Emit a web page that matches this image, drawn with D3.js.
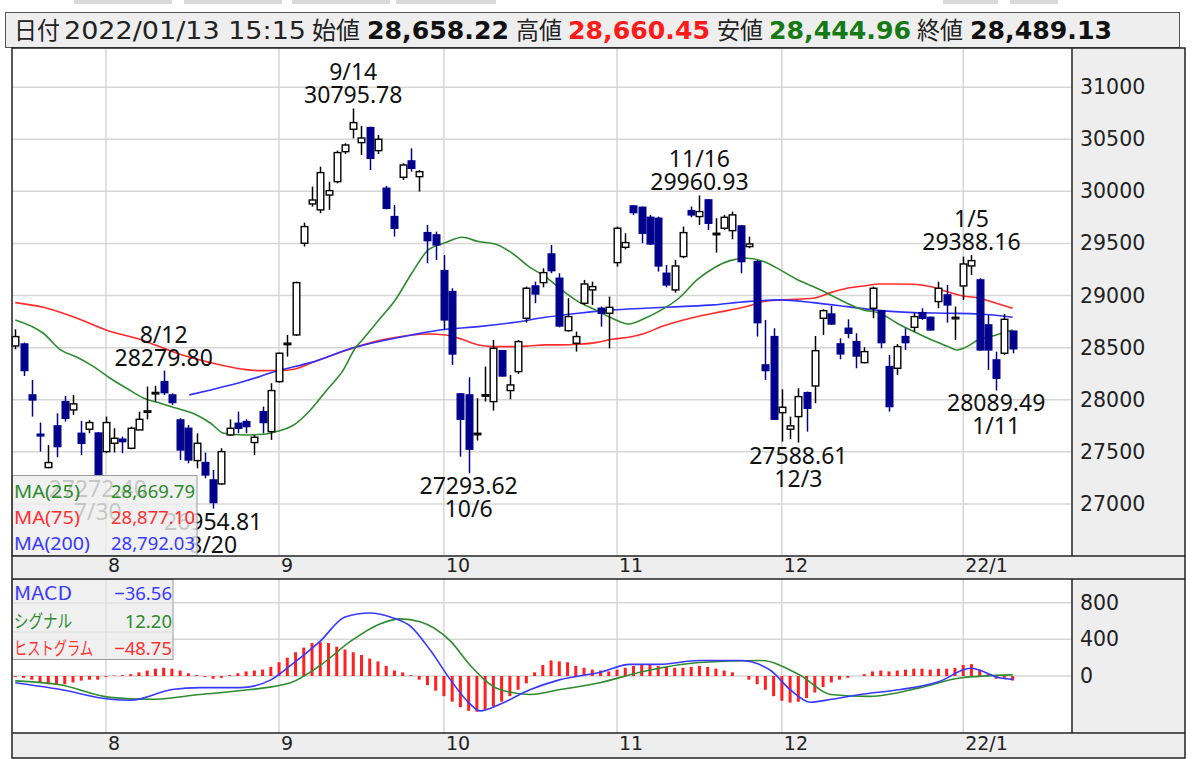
<!DOCTYPE html>
<html><head><meta charset="utf-8">
<script src="https://cdn.jsdelivr.net/npm/d3@7"></script>
<style>body{margin:0;background:#fff}svg{display:block}</style>
</head><body><svg id="c" width="1200" height="759"></svg>
<script>
// ---------- DATA ----------
const openV  = [28516,28535,28046,27669,27349,27749,27982,27902,27678,27717,27680,27502,27582,27621,27534,27710,27885,28062,28174,28046,27806,27726,27416,27397,27230,27192,27662,27774,27790,27589,27886,27694,28174,28535,28622,29502,29879,29822,29965,30093,30381,30596,30468,30612,30391,30030,29758,30135,30292,30141,29604,29582,29239,29038,28056,28046,27672,28040,27982,28471,28088,28270,28782,29092,29124,29399,29166,28663,28542,28926,29054,28878,28830,29316,29463,29860,29847,29751,29742,29214,29054,29374,29815,29758,29918,29591,29646,29623,29668,29470,29326,28334,28606,27876,27717,27838,28068,28132,28782,28823,28536,28686,28558,28356,28878,28855,28318,28302,28606,28695,28836,28791,28942,29006,28782,29092,29284,29150,28718,28382,28446,28658.22];
const highV  = [28676,28548,28190,27781,27566,27870,28036,28046,27797,27806,27690,27838,27726,27646,27742,27886,28126,28133,28279.80,28062,27822,27758,27678,27493,27326,27534,27812,27886,27812,27662,27934,28158,28452,28622,29134,29700,30045,30237,30093,30391,30461,30795.78,30628,30621,30541,30052,29870,30269,30413,30205,29678,29613,29390,29070,28062,28216,28014,28318,28574,28478,28238,28574,29086,29134,29262,29486,29214,28974,28654,29150,29134,28894,28990,29662,29598,29870,29854,29774,29758,29294,29342,29662,29854,29960.93,29924,29742,29774,29806,29678,29566,29342,28766,28686,28100,27838,28110,28078,28612,28868,28900,28590,28772,28638,28503,29086,28862,28430,28535,28686,28836,28878,28798,29134,29102,28894,29374,29388.16,29166,28814,28462,28823,28660.45];
const lowV   = [28484,28228,27838,27502,27342,27448,27790,27854,27470,27678,27272.40,27486,27493,27486,27525,27710,27812,27982,28046,27950,27422,27390,27342,27246,26954.81,27182,27652,27678,27678,27470,27678,27614,28164,28414,28612,29470,29854,29790,29822,30077,30359,30509,30349,30205,30359,29828,29566,30109,30189,29998,29310,29342,28670,28334,27454,27293.62,27608,27982,27896,28222,28004,28248,28740,28926,29079,29214,28695,28654,28462,28910,28910,28702,28494,29278,29444,29774,29502,29486,29230,29079,29028,29358,29751,29678,29630,29412,29630,29540,29214,29454,28606,28190,27806,27598,27621,27588.61,27694,27966,28622,28718,28388,28590,28302,28350,28782,28494,27886,28238,28478,28654,28766,28663,28878,28740,28574,28958,29198,28471,28286,28089.49,28430,28444.96];
const closeV = [28606,28280,27998,27653,27397,27550,27822,27960,27582,27781,27283,27781,27630,27598,27726,27812,27893,28070,28068,27973,27518,27422,27582,27278,27013,27502,27726,27726,27742,27640,27781,28088,28446,28543,29124,29662,29917,30180,30007,30372,30445,30660,30512,30317,30500,29837,29646,30253,30221,30189,29527,29486,28766,28439,27813,27525,27678,28048,28494,28228,28142,28558,29070,29015,29220,29239,28708,28798,28606,29111,29086,28830,28887,29646,29508,29796,29598,29495,29284,29102,29284,29604,29774,29806,29694,29598,29751,29774,29326,29495,28740,28280,27813,27928,27749,28030,27918,28471,28855,28727,28440,28638,28420,28462,29070,28548,27934,28510,28548,28798,28782,28670,29070,28910,28791,29303,29335,28478,28478,28206,28772,28489.13];

const monthStartIdx = [11, 32, 52, 73, 93, 115];
const monthLabels   = ["8", "9", "10", "11", "12", "22/1"];
const priceTicks = [27000, 27500, 28000, 28500, 29000, 29500, 30000, 30500, 31000];
const macdTicks  = [0, 400, 800];

const ma25Idx = [0,3.4,5.5,7.5,9.5,11.5,13.5,15.6,17.6,19.6,22,23.7,25.3,27.7,30.1,31.7,33.8,35.8,37.8,39.8,41.2,42.1,44.1,46.1,48.1,50.1,52.2,54.2,56.2,58.2,60.3,62.3,64.3,66.3,68.3,70.4,72.4,74.4,76.4,78.4,80.5,82.7,84.7,86.7,88.7,90.8,92.8,94.8,96.8,98.9,100.9,102.9,104.9,107,109,111,113,114.2,115,117,119,121];
const ma25Val = [28766,28638,28478,28408,28318,28206,28110,28014,27966,27918,27854,27774,27678,27662,27668,27694,27758,27902,28094,28286,28490,28574,28766,28958,29214,29438,29508,29559,29518,29495,29406,29278,29182,29054,28942,28862,28782,28727,28782,28862,28974,29150,29262,29335,29358,29326,29246,29156,29086,29006,28926,28862,28830,28734,28654,28580,28516,28478,28494,28580,28622,28670];
const ma75Idx = [0,3.4,7.5,11,15.6,19.6,23.7,27.7,29.7,32,33.8,35.8,40,44.1,48.1,50.1,52.2,54.2,56.2,58.2,60.3,62.3,64.3,66.3,68.3,70.4,72.4,74.4,76.4,78.4,81.9,84.7,88.7,90.8,92.8,96.8,98.9,100.9,102.9,104.9,107,109,111,113,115,117,119,121];
const ma75Val = [28932,28887,28782,28670,28567,28446,28356,28292,28279,28280,28292,28350,28471,28567,28622,28631,28622,28580,28526,28510,28510,28516,28526,28526,28532,28548,28580,28599,28638,28702,28782,28830,28894,28942,28958,28974,29028,29070,29092,29111,29111,29108,29086,29038,28996,28974,28926,28877];
const ma200Idx = [21.1,23.7,27.7,31.9,35.8,41.2,44.1,48.1,52.2,56.2,60.3,64.3,68.3,72.4,76.4,80.7,84.7,88.7,92.8,96.8,100.9,104.9,109,113,117,121];
const ma200Val = [28046,28094,28174,28280,28356,28503,28558,28622,28676,28702,28740,28791,28830,28862,28878,28894,28910,28942,28958,28932,28894,28855,28836,28830,28823,28792];

const macdIdx = [0,5.5,11.5,14,19,22.4,27.3,31,33.4,37,40,43,45.5,48,50.4,52.8,55.2,56.4,58.8,62.5,66,71,74.6,78,83,88,91.6,94,96.5,99,102.5,107.4,112,115.9,119.5,121];
const macdVal = [-74,-148,-254,-265,-148,-127,-127,-42,116,381,645,688,645,540,275,-42,-307,-381,-307,-148,-42,42,127,127,169,169,63,-148,-286,-254,-201,-148,-63,85,-21,-36.56];
const signalIdx = [0,5.4,11.5,16.4,22.4,28.5,33.4,37,40.7,44.3,46.7,49.1,52.8,55.2,58.8,62.5,66.1,70.9,75.8,83,90.4,95.2,98.9,103.7,109.8,114.6,121];
const signalVal = [-53,-95,-233,-254,-201,-148,-74,116,381,571,624,593,381,116,-148,-201,-148,-74,42,148,169,10,-201,-222,-127,-21,12.20];
const histVal = [-10,-20,-40,-70,-90,-95,-90,-70,-50,-40,-40,-10,5,10,20,40,60,80,90,80,60,30,10,-10,-30,-20,10,30,50,60,70,100,150,200,260,310,360,370,360,320,290,260,230,190,160,110,60,40,10,-40,-100,-160,-220,-280,-340,-380,-390,-370,-330,-280,-220,-150,-80,40,120,170,160,150,110,90,70,60,50,70,90,110,120,120,110,100,90,90,100,110,100,80,60,40,0,-40,-90,-150,-220,-270,-290,-280,-240,-180,-120,-70,-40,-20,0,20,50,60,50,60,70,80,80,70,80,80,90,120,130,70,20,-30,-20,-48.75];

const highMarks = [{i:18,date:"8/12",val:"28279.80"},{i:41,date:"9/14",val:"30795.78"},{i:83,date:"11/16",val:"29960.93"},{i:116,date:"1/5",val:"29388.16"}];
const lowMarks  = [{i:10,date:"7/30",val:"27272.40"},{i:24,date:"8/20",val:"26954.81"},{i:55,date:"10/6",val:"27293.62"},{i:95,date:"12/3",val:"27588.61"},{i:119,date:"1/11",val:"28089.49"}];

const headerParts = [
  {t:"日付", w:false, c:"#222"}, {t:"2022/01/13 15:15", w:false, c:"#222"},
  {t:"始値", w:false, c:"#222"}, {t:"28,658.22", w:true, c:"#111"},
  {t:"高値", w:false, c:"#222"}, {t:"28,660.45", w:true, c:"#ff1a1a"},
  {t:"安値", w:false, c:"#222"}, {t:"28,444.96", w:true, c:"#157a15"},
  {t:"終値", w:false, c:"#222"}, {t:"28,489.13", w:true, c:"#111"}
];
const maLegend = [{name:"MA(25)", val:"28,669.79", c:"#2e8b2e"},{name:"MA(75)", val:"28,877.10", c:"#ff3030"},{name:"MA(200)", val:"28,792.03", c:"#3838ff"}];
const macdLegend = [{name:"MACD", val:"\u221236.56", c:"#3838ff"},{name:"シグナル", val:"12.20", c:"#2e8b2e"},{name:"ヒストグラム", val:"\u221248.75", c:"#ff3030"}];

// ---------- LAYOUT ----------
const svg = d3.select("#c");
const L = 12, R = 1072, AR = 1185;
const mainT = 48, mainB = 556, macdT = 579, macdB = 733, botB = 758;
const gridC = "#d6d6d6", panelC = "#eeeeee";
const upC = "#ffffff", dnC = "#00008c";

const n = closeV.length;
const x = d3.scaleLinear().domain([-0.4, 128.2]).range([L, R]);
const y = d3.scaleLinear().domain([26500, 31376]).range([mainB, mainT]);
const ym = d3.scaleLinear().domain([-622, 1059]).range([macdB, macdT]);

// top tabs
[[74,176],[184,286],[292,394],[396,500],[943,1002],[1010,1062]].forEach(([a,b])=>{
  svg.append("rect").attr("x",a).attr("y",0).attr("width",b-a-4).attr("height",4).attr("fill","#d9d9d9");
});

// header box
svg.append("rect").attr("x",5.5).attr("y",12.5).attr("width",1174).attr("height",35).attr("fill",panelC).attr("stroke","#555").attr("stroke-width",1);
const hx = [[14,46],[64,242],[312,48],[367,142],[516,46],[568,142],[717,46],[769,142],[917,46],[970,142]];
headerParts.forEach((p,k)=>{
  svg.append("text").attr("x",hx[k][0]).attr("y",38.5)
    .attr("font-family", p.w ? "DejaVu Sans" : "'DejaVu Sans','Noto Sans CJK JP'")
    .attr("font-weight", p.w ? "bold":"normal").attr("font-size", 24)
    .attr("fill", p.c).attr("textLength", hx[k][1]).attr("lengthAdjust","spacingAndGlyphs").text(p.t);
});

// panels
svg.append("rect").attr("x",L).attr("y",mainT).attr("width",R-L).attr("height",mainB-mainT).attr("fill","#fff");
svg.append("rect").attr("x",L).attr("y",macdT).attr("width",R-L).attr("height",macdB-macdT).attr("fill","#fff");
svg.append("rect").attr("x",R).attr("y",mainT).attr("width",AR-R).attr("height",mainB-mainT).attr("fill",panelC);
svg.append("rect").attr("x",R).attr("y",macdT).attr("width",AR-R).attr("height",macdB-macdT).attr("fill",panelC);
svg.append("rect").attr("x",L).attr("y",mainB).attr("width",AR-L).attr("height",macdT-mainB).attr("fill",panelC);
svg.append("rect").attr("x",L).attr("y",macdB).attr("width",AR-L).attr("height",botB-macdB).attr("fill",panelC);

// grid
const gm = svg.append("g");
priceTicks.forEach(v=>gm.append("line").attr("x1",L).attr("x2",R).attr("y1",y(v)).attr("y2",y(v)).attr("stroke",gridC).attr("stroke-width",1.5));
monthStartIdx.forEach(i=>{
  gm.append("line").attr("x1",x(i)).attr("x2",x(i)).attr("y1",mainT).attr("y2",mainB).attr("stroke",gridC).attr("stroke-width",1.5);
  gm.append("line").attr("x1",x(i)).attr("x2",x(i)).attr("y1",macdT).attr("y2",macdB).attr("stroke",gridC).attr("stroke-width",1.5);
});
macdTicks.forEach(v=>gm.append("line").attr("x1",L).attr("x2",R).attr("y1",ym(v)).attr("y2",ym(v)).attr("stroke",gridC).attr("stroke-width",1.5));

// MA lines
const lineGen = d3.line().curve(d3.curveMonotoneX);
function drawLine(idx, vals, sc, color){
  svg.append("path").attr("d", lineGen(idx.map((i,k)=>[x(i), sc(vals[k])])))
    .attr("fill","none").attr("stroke",color).attr("stroke-width",1.6);
}
drawLine(ma75Idx, ma75Val, y, "#ff2a2a");
drawLine(ma200Idx, ma200Val, y, "#3030ff");
drawLine(ma25Idx, ma25Val, y, "#2e8b2e");

// candles
const bw = 6.6;
const cg = svg.append("g");
d3.range(n).forEach(i=>{
  const up = closeV[i] >= openV[i];
  const col = up ? "#000" : dnC;
  const cx = Math.round(x(i)) + 0.5;
  cg.append("line").attr("x1",cx).attr("x2",cx).attr("y1",y(highV[i])).attr("y2",y(lowV[i])).attr("stroke",col).attr("stroke-width",1.5);
  const top = y(Math.max(openV[i],closeV[i])), bot = y(Math.min(openV[i],closeV[i]));
  cg.append("rect").attr("x",cx-bw/2).attr("y",top).attr("width",bw).attr("height",Math.max(1.5,bot-top))
    .attr("fill", up ? upC : dnC).attr("stroke",col).attr("stroke-width",1.4);
});

// annotations
const annF = "'Noto Sans', sans-serif";
highMarks.forEach(m=>{
  const yy = y(highV[m.i]);
  svg.append("text").attr("x",x(m.i)).attr("y",yy-28).attr("text-anchor","middle").attr("font-family",annF).attr("font-size",23).attr("fill","#111").text(m.date);
  svg.append("text").attr("x",x(m.i)).attr("y",yy-5).attr("text-anchor","middle").attr("font-family",annF).attr("font-size",23).attr("fill","#111").text(m.val);
});
lowMarks.forEach(m=>{
  const yy = y(lowV[m.i]);
  svg.append("text").attr("x",x(m.i)).attr("y",yy+21).attr("text-anchor","middle").attr("font-family",annF).attr("font-size",23).attr("fill","#111").text(m.val);
  svg.append("text").attr("x",x(m.i)).attr("y",yy+44).attr("text-anchor","middle").attr("font-family",annF).attr("font-size",23).attr("fill","#111").text(m.date);
});

// MACD histogram & lines
const hg = svg.append("g");
histVal.forEach((v,i)=>{
  hg.append("rect").attr("x",x(i)-1.5).attr("width",3).attr("y",Math.min(ym(v),ym(0))).attr("height",Math.abs(ym(v)-ym(0))).attr("fill","#ff2020");
});
drawLine(signalIdx, signalVal, ym, "#2e8b2e");
drawLine(macdIdx, macdVal, ym, "#3838ff");

// MA legend
svg.append("rect").attr("x",L).attr("y",475.5).attr("width",185).attr("height",80).attr("fill","#eeeeee").attr("fill-opacity",0.82).attr("stroke","#9a9a9a");
const maNameW = [66, 66, 76];
maLegend.forEach((d,k)=>{
  svg.append("text").attr("x",14).attr("y",498+k*26).attr("font-family",annF).attr("font-size",18.5).attr("fill",d.c)
    .attr("textLength",maNameW[k]).attr("lengthAdjust","spacingAndGlyphs").text(d.name);
  svg.append("text").attr("x",195).attr("y",498+k*26).attr("text-anchor","end").attr("font-family",annF).attr("font-size",18.5).attr("fill",d.c).text(d.val);
});
// MACD legend
svg.append("rect").attr("x",L).attr("y",579.5).attr("width",161).attr("height",80).attr("fill","#eeeeee").attr("fill-opacity",0.9).attr("stroke","#9a9a9a");
svg.append("line").attr("x1",106).attr("x2",106).attr("y1",580).attr("y2",659).attr("stroke","#dcdcdc");
[603,632].forEach(v=>svg.append("line").attr("x1",L).attr("x2",173).attr("y1",v).attr("y2",v).attr("stroke","#dcdcdc"));
const mdNameW = [58, 58, 79];
macdLegend.forEach((d,k)=>{
  svg.append("text").attr("x",14).attr("y",600+k*27.5).attr("font-family","'Noto Sans CJK JP', 'Noto Sans'").attr("font-size",18).attr("fill",d.c)
    .attr("textLength",mdNameW[k]).attr("lengthAdjust","spacingAndGlyphs").text(d.name);
  svg.append("text").attr("x",172).attr("y",600+k*27.5).attr("text-anchor","end").attr("font-family",annF).attr("font-size",18.5).attr("fill",d.c).text(d.val);
});

// axes labels
const axF = "'DejaVu Sans', Verdana, sans-serif";
priceTicks.forEach(v=>svg.append("text").attr("x",1080).attr("y",y(v)+7).attr("font-family",axF).attr("font-size",20.5).attr("fill","#222").text(v));
macdTicks.forEach(v=>svg.append("text").attr("x",1080).attr("y",ym(v)+7).attr("font-family",axF).attr("font-size",20.5).attr("fill","#222").text(v));
monthStartIdx.forEach((i,k)=>{
  [572, 750].forEach(yy=>svg.append("text").attr("x",x(i)+2).attr("y",yy).attr("font-family",axF).attr("font-size",19).attr("fill","#222").text(monthLabels[k]));
});

// borders
const bc = "#222";
svg.append("rect").attr("x",L).attr("y",mainT).attr("width",AR-L).attr("height",botB-mainT).attr("fill","none").attr("stroke",bc).attr("stroke-width",1.5);
svg.append("line").attr("x1",R).attr("x2",R).attr("y1",mainT).attr("y2",mainB).attr("stroke",bc).attr("stroke-width",1.5);
svg.append("line").attr("x1",R).attr("x2",R).attr("y1",macdT).attr("y2",macdB).attr("stroke",bc).attr("stroke-width",1.5);
[mainB, macdT, macdB].forEach(v=>svg.append("line").attr("x1",L).attr("x2",AR).attr("y1",v).attr("y2",v).attr("stroke",bc).attr("stroke-width",1.5));
</script></body></html>
